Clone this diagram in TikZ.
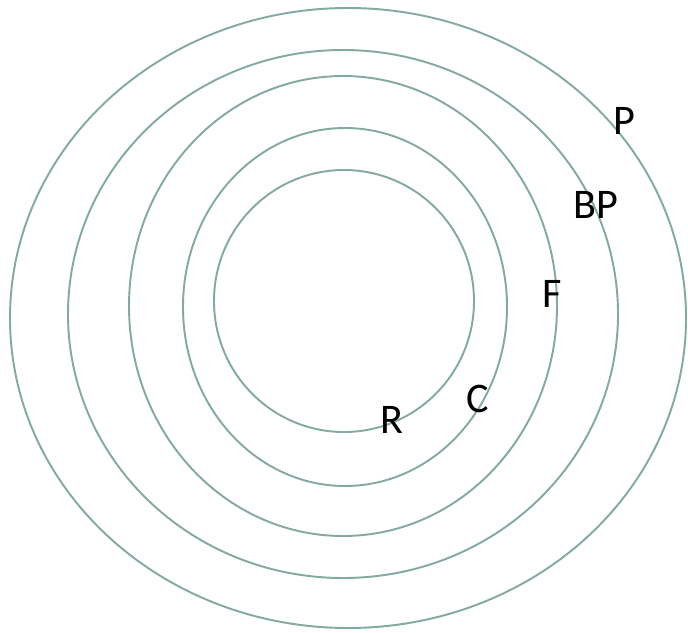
\documentclass[tikz,border=0pt]{standalone}
\usepackage{fontspec}
\setmainfont{Carlito}
\usepackage{tikz}
\usetikzlibrary{positioning}
\definecolor{ringgreen}{HTML}{82AB9E}
\tikzset{
    ring/.style={draw=ringgreen, line width=1.1pt},
    rlabel/.style={font=\fontsize{24}{28}\selectfont, inner sep=0pt, text=black}
}

\begin{document}
\begin{tikzpicture}[x=0.02cm, y=-0.02cm]
    \useasboundingbox (0,0) rectangle (688,632);

    % --- Nested rings, outermost first ---
    \foreach \cx/\cy/\rx/\ry in {348/318/338/310, 343/314/275/264, 343/306/214/230, 345/307/162/179, 344/301/130/131}
        \draw[ring] (\cx,\cy) ellipse [x radius=\rx, y radius=\ry];

    % Ring labels
    \node[rlabel] (lp)  at (624,121) {P};
    \node[rlabel] (lbp) at (596,205) {BP};
    \node[rlabel] (lf)  at (552,294) {F};
    \node[rlabel] (lc)  at (478,399) {C};
    \node[rlabel] (lr)  at (392,420) {R};

\end{tikzpicture}
\end{document}
